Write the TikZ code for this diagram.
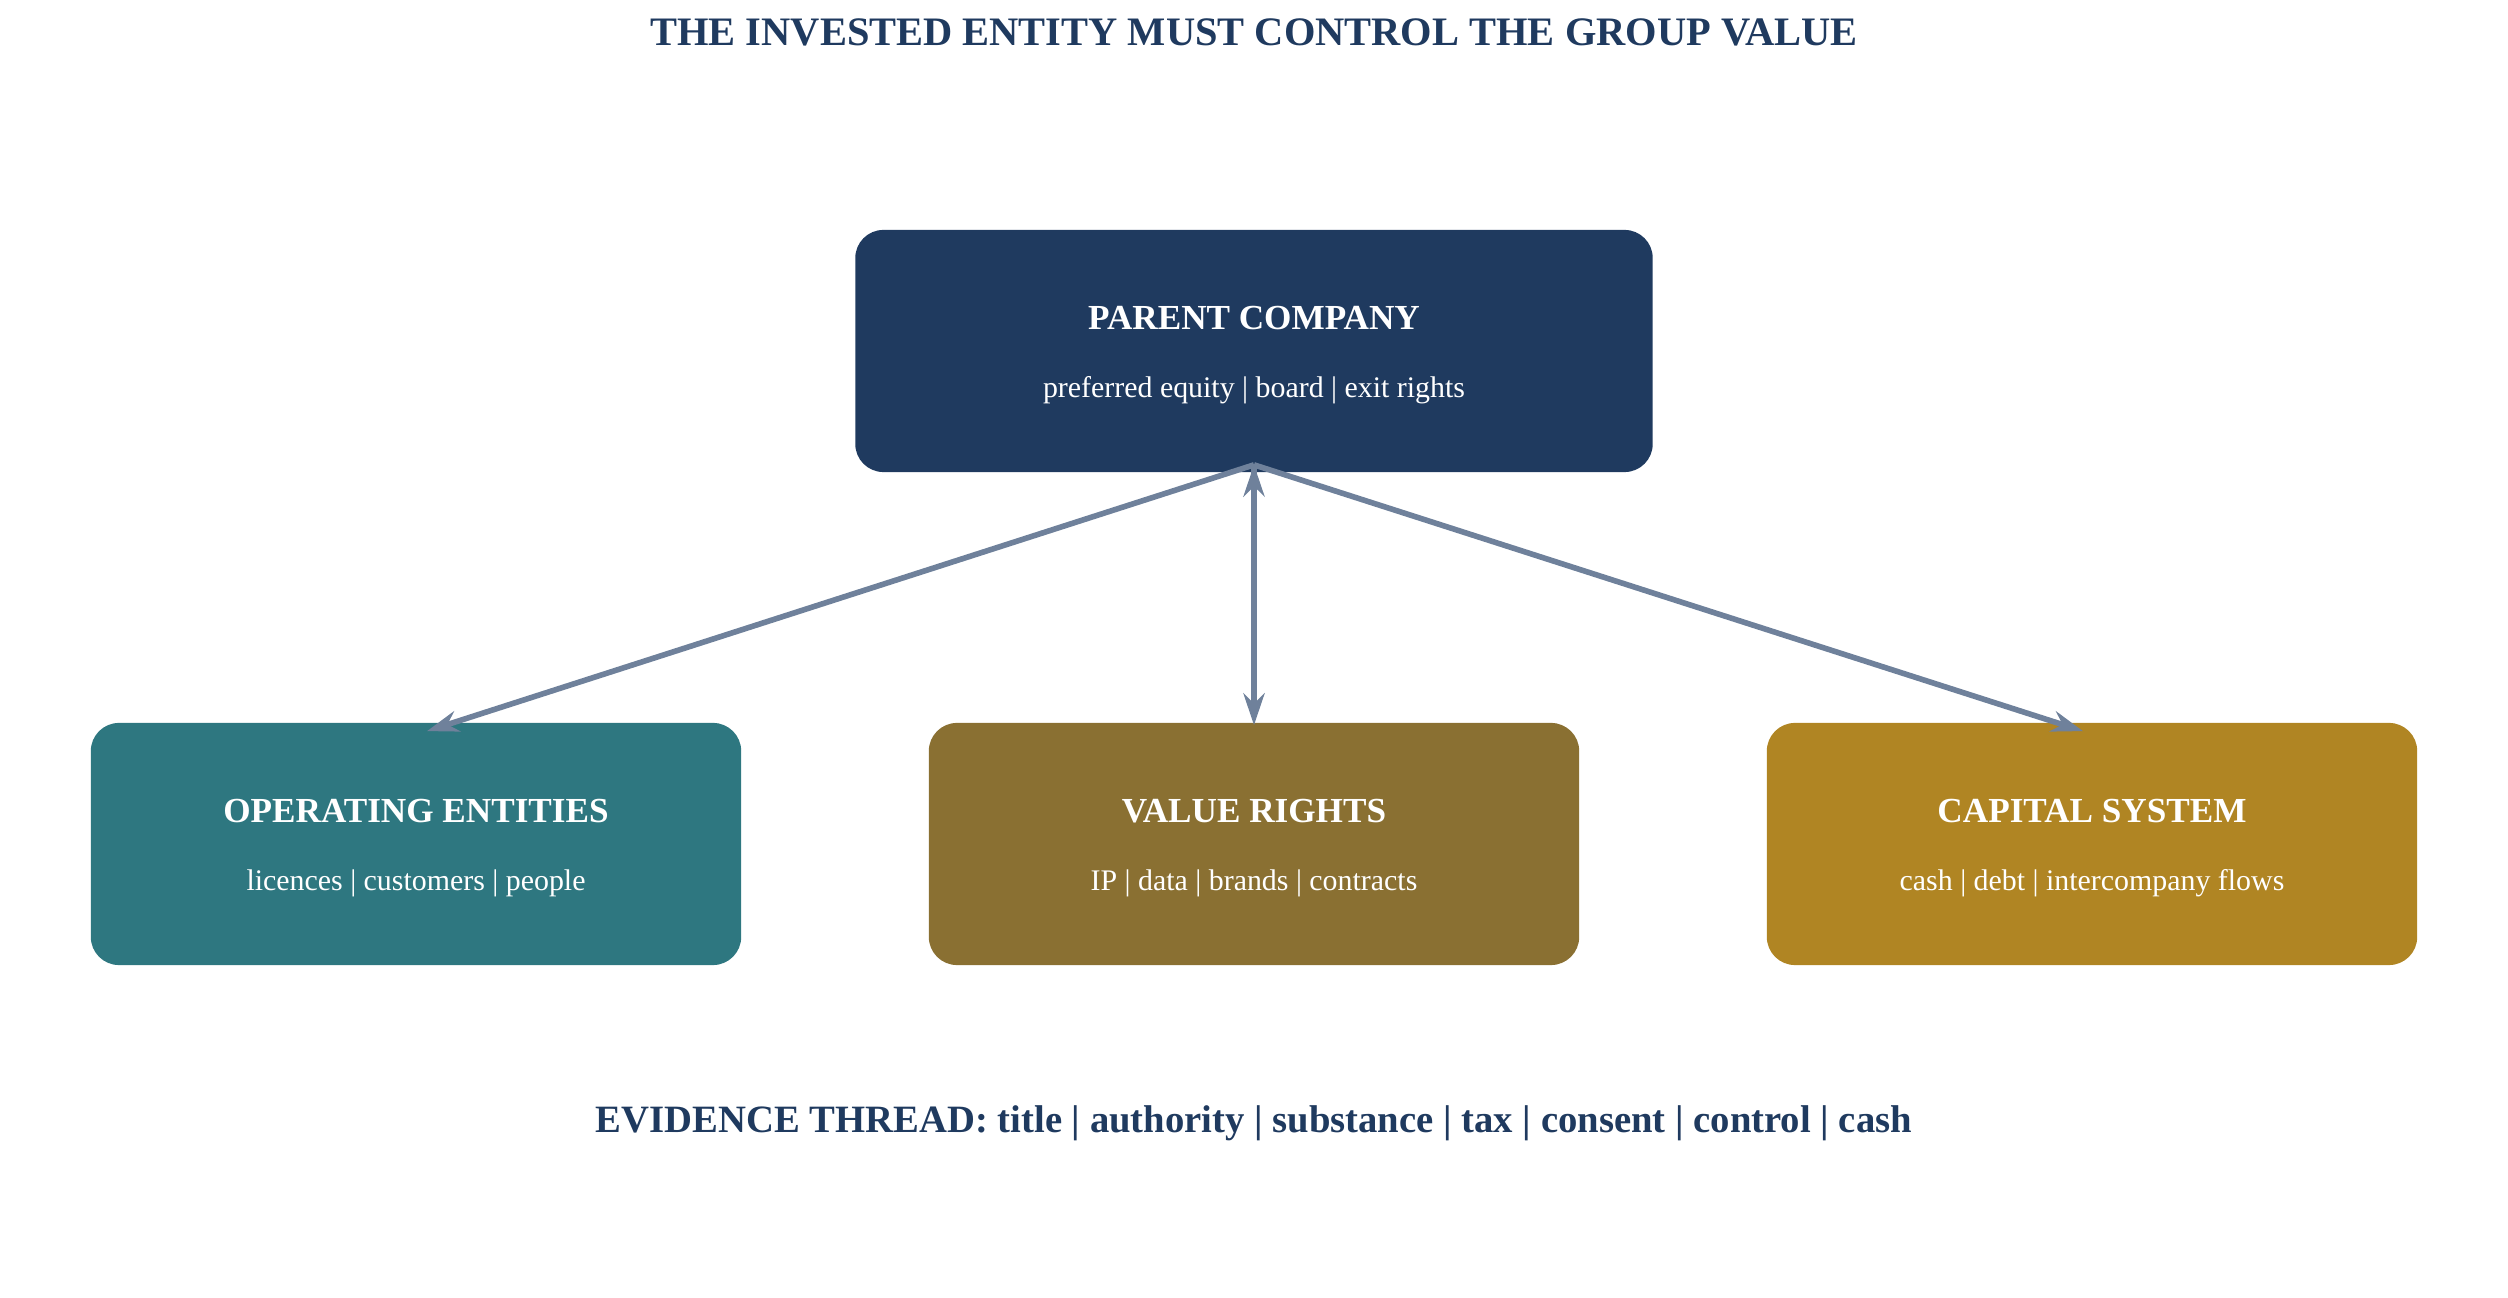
\documentclass[tikz,border=0pt]{standalone}
\usepackage{fontspec}
\setmainfont{Liberation Serif}
\usepackage{tikz}
\usetikzlibrary{arrows.meta,positioning}

\definecolor{navy}{HTML}{1F3A5F}
\definecolor{teal}{HTML}{2E7780}
\definecolor{olive}{HTML}{8A7032}
\definecolor{gold}{HTML}{B08523}
\definecolor{link}{HTML}{6F819B}

\begin{document}
\begin{tikzpicture}[x=0.01cm,y=-0.01cm,-{Stealth[length=9pt,width=6pt]},
                    line width=1.6pt,draw=link]

  \tikzstyle{box}=[rectangle,rounded corners=8pt,minimum height=2.42cm,
                   text=white,align=center,inner sep=0pt]
  \tikzstyle{every label}=[]

  \useasboundingbox (0,0) rectangle (2508,1298);

  \node[font=\bfseries\fontsize{11.5}{14}\selectfont,text=navy] (title) at (1254,32)
       {THE INVESTED ENTITY MUST CONTROL THE GROUP VALUE};

  \node[box,fill=navy,minimum width=7.97cm] (PC) at (1254,351) {};
  \node[box,fill=teal,minimum width=6.5cm]  (OE) at (416,844)  {};
  \node[box,fill=olive,minimum width=6.5cm] (VR) at (1254,844) {};
  \node[box,fill=gold,minimum width=6.5cm]  (CS) at (2092,844) {};

  \foreach \n/\t/\s in {PC/PARENT COMPANY/preferred equity | board | exit rights,
                        OE/OPERATING ENTITIES/licences | customers | people,
                        VR/VALUE RIGHTS/IP | data | brands | contracts,
                        CS/CAPITAL SYSTEM/cash | debt | intercompany flows}
  {
    \node[text=white,font=\bfseries\fontsize{10}{12}\selectfont] at ([yshift=0.33cm]\n.center) {\t};
    \node[text=white,font=\fontsize{8.5}{10}\selectfont] at ([yshift=-0.39cm]\n.center) {\s};
  }

  \coordinate (src) at ([yshift=0.1cm]PC.south);
  \coordinate (toOE) at ([xshift=0.11cm,yshift=-0.11cm]OE.north);
  \coordinate (toVR) at ([yshift=-0.05cm]VR.north);
  \coordinate (toCS) at ([xshift=-0.09cm,yshift=-0.11cm]CS.north);

  \path[draw]
  (src) edge (toOE)
  (src) edge (toVR)
  (src) edge (toCS);

  \node[font=\bfseries\fontsize{11}{13}\selectfont,text=navy] (thread) at (1254,1123)
       {EVIDENCE THREAD: title | authority | substance | tax | consent | control | cash};
\end{tikzpicture}
\end{document}
